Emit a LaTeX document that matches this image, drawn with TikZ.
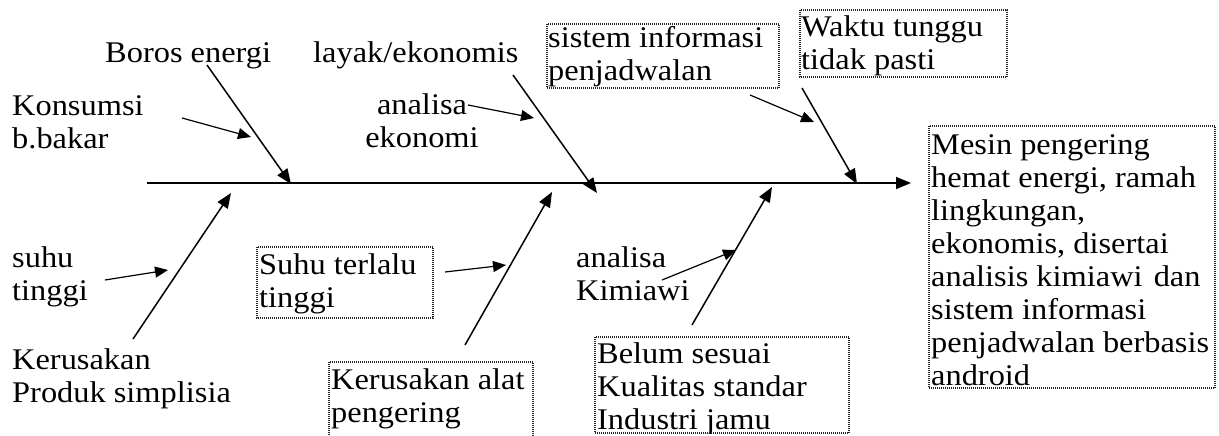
\documentclass[tikz,border=0pt]{standalone}
\usepackage{fontspec}
\setmainfont{Liberation Serif}[FakeStretch=1.08]
\usetikzlibrary{arrows.meta}

\begin{document}
\begin{tikzpicture}[x=1pt, y=-1pt,
		t/.style  = {anchor=base west, inner sep=0pt, align=left, font=\fontsize{30}{33}\selectfont},
		bx/.style = {draw=black!85, line width=1.3pt, dash pattern=on 1pt off 1pt},
		r/.style  = {-{Triangle[length=15pt, width=12pt]}, line width=1.5pt},
		rs/.style = {-{Triangle[length=13pt, width=11pt]}, line width=1.2pt}
		]
		\useasboundingbox (0,0) rectangle (1219,436);
		
		%Nodes (placed at the baseline of their last line)
		\node[t]	(boros)	at	(105, 63)	{Boros energi};
		\node[t]	(kons)	at	(12, 148)	{Konsumsi\\b.bakar};
		\node[t]	(layak)	at	(313, 63)	{layak/ekonomis};
		\node[t, align=center, anchor=base]	(anek)	at	(422, 147)	{analisa\\ekonomi};
		\node[t]	(waktu)	at	(801, 70)	{Waktu tunggu\\tidak pasti};
		
		\node[t]	(suhu)	at	(12, 300)	{suhu\\tinggi};
		\node[t]	(rusakp)	at	(12, 402)	{Kerusakan\\Produk simplisia};
		\node[t]	(suhut)	at	(259, 307)	{Suhu terlalu\\tinggi};
		\node[t]	(rusaka)	at	(331, 422)	{Kerusakan alat\\pengering};
		\node[t]	(anki)	at	(576, 300)	{analisa\\Kimiawi};
		
		% clipped texts
		\begin{scope}
			\clip (547, 24) rectangle (779, 88);
			\node[t]	(sis)	at	(548, 81)	{sistem informasi\\penjadwalan};
		\end{scope}
		\begin{scope}
			\clip (929, 126) rectangle (1215, 388);
			\node[t]	(mesin)	at	(931, 385)	{Mesin pengering\\hemat energi, ramah\\lingkungan,\\ekonomis, disertai\\analisis kimiawi\hspace{3pt} dan\\sistem informasi\\penjadwalan berbasis\\android};
		\end{scope}
		\begin{scope}
			\clip (595, 337) rectangle (849, 433);
			\node[t]	(belum)	at	(597, 429)	{Belum sesuai\\Kualitas standar\\Industri jamu};
		\end{scope}
		
		% boxes
		\draw[bx]	(547, 24)	rectangle	(779, 88);
		\draw[bx]	(800, 10)	rectangle	(1007, 77);
		\draw[bx]	(929, 126)	rectangle	(1215, 388);
		\draw[bx]	(257, 247)	rectangle	(433, 318);
		\draw[bx]	(329, 362)	rectangle	(533, 440);
		\draw[bx]	(595, 337)	rectangle	(849, 433);
		
		% spine and bones
		\coordinate	(sp0)	at	(147, 183);
		\coordinate	(sp1)	at	(911, 183);
		
		\coordinate	(b1s)	at	(207, 65);
		\coordinate	(b1e)	at	(291, 184);
		\coordinate	(b2s)	at	(513, 75);
		\coordinate	(b2e)	at	(597, 193);
		\coordinate	(b3s)	at	(802, 88);
		\coordinate	(b3e)	at	(857, 184);
		\coordinate	(b4s)	at	(133, 339);
		\coordinate	(b4e)	at	(231, 193);
		\coordinate	(b5s)	at	(465, 345);
		\coordinate	(b5e)	at	(552, 192);
		\coordinate	(b6s)	at	(692, 325);
		\coordinate	(b6e)	at	(772, 187);
		
		\coordinate	(c1s)	at	(182, 118);
		\coordinate	(c1e)	at	(251, 137);
		\coordinate	(c2s)	at	(468, 105);
		\coordinate	(c2e)	at	(534, 118);
		\coordinate	(c3s)	at	(750, 95);
		\coordinate	(c3e)	at	(814, 122);
		\coordinate	(c4s)	at	(105, 280);
		\coordinate	(c4e)	at	(168, 270);
		\coordinate	(c5s)	at	(445, 272);
		\coordinate	(c5e)	at	(506, 265);
		\coordinate	(c6s)	at	(662, 280);
		\coordinate	(c6e)	at	(736, 250);
		
		%Lines
		\draw[r]	(sp0)	to	(sp1);
		\draw[r]	(b1s)	to	(b1e);
		\draw[r]	(b2s)	to	(b2e);
		\draw[r]	(b3s)	to	(b3e);
		\draw[r]	(b4s)	to	(b4e);
		\draw[r]	(b5s)	to	(b5e);
		\draw[r]	(b6s)	to	(b6e);
		
		\draw[rs]	(c1s)	to	(c1e);
		\draw[rs]	(c2s)	to	(c2e);
		\draw[rs]	(c3s)	to	(c3e);
		\draw[rs]	(c4s)	to	(c4e);
		\draw[rs]	(c5s)	to	(c5e);
		\draw[rs]	(c6s)	to	(c6e);
	\end{tikzpicture}
\end{document}
